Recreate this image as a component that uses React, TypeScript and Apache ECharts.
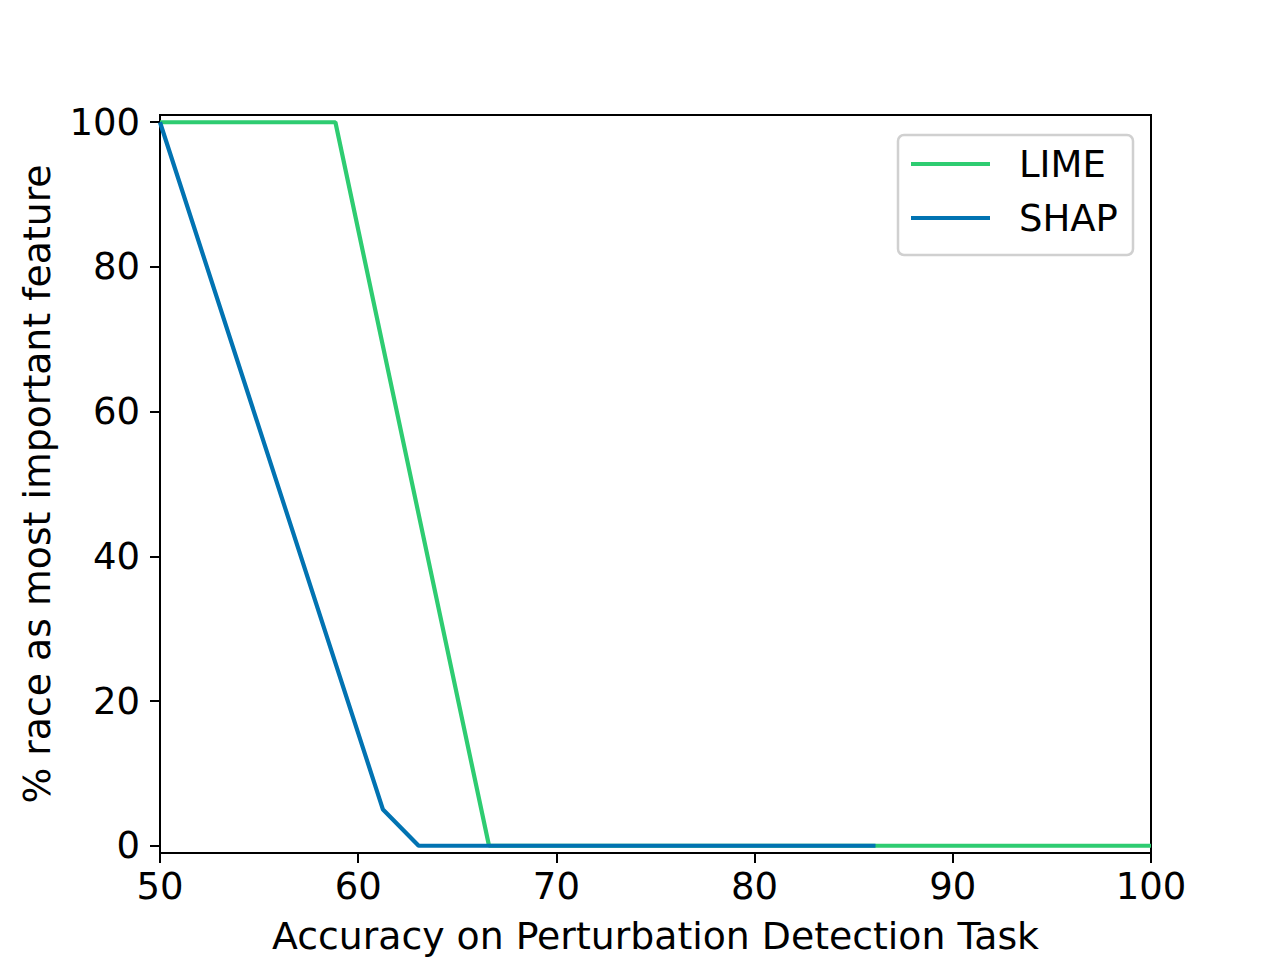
import React, { useEffect, useRef } from "react";
import * as echarts from "echarts";

const limeX = [50, 58.85, 66.6, 100];
const limeY = [100, 100, 0, 0];
const shapX = [50, 61.25, 63.05, 86.1];
const shapY = [100, 5, 0, 0];
const yTicks = [0, 20, 40, 60, 80, 100];
const seriesNames = ["LIME", "SHAP"];
const seriesColors = ["#2ecc71", "#0173b2"];

const FONT = "DejaVu Sans";
const FS = 37;
const NAME_FS = 37.8;

export default function App() {
  const ref = useRef<HTMLDivElement>(null);
  useEffect(() => {
    if (!ref.current) return;
    const chart = echarts.init(ref.current, null, { renderer: "svg" });
    const pair = (xs: number[], ys: number[]) => xs.map((x, i) => [x, ys[i]]);
    chart.setOption({
      animation: false,
      backgroundColor: "#ffffff",
      grid: {
        left: 160,
        right: 129,
        top: 115,
        bottom: 106,
        show: true,
        borderColor: "#000",
        borderWidth: 2,
        backgroundColor: "transparent",
      },
      xAxis: {
        type: "value",
        min: 50,
        max: 100,
        interval: 10,
        name: "Accuracy on Perturbation Detection Task",
        nameLocation: "middle",
        nameGap: 64,
        nameTextStyle: { fontFamily: FONT, fontSize: NAME_FS, color: "#000" },
        axisLine: { show: true, onZero: false, lineStyle: { color: "#000", width: 2 } },
        axisTick: { show: true, length: 10, lineStyle: { color: "#000", width: 2 } },
        axisLabel: { fontFamily: FONT, fontSize: FS, color: "#000", margin: 15 },
        splitLine: { show: false },
      },
      yAxis: {
        type: "value",
        min: -1,
        max: 101,
        name: "% race as most important feature",
        nameLocation: "middle",
        nameGap: 104,
        nameTextStyle: { fontFamily: FONT, fontSize: NAME_FS, color: "#000" },
        axisLine: { show: true, onZero: false, lineStyle: { color: "#000", width: 2 } },
        axisTick: {
          show: true,
          length: 10,
          customValues: yTicks,
          lineStyle: { color: "#000", width: 2 },
        },
        axisLabel: {
          fontFamily: FONT,
          fontSize: FS,
          color: "#000",
          margin: 20,
          customValues: yTicks,
        },
        splitLine: { show: false },
      },
      graphic: [
        {
          type: "rect",
          shape: { x: 898, y: 135, width: 235, height: 120, r: 6 },
          style: { fill: "rgba(255,255,255,0.8)", stroke: "#d0d0d0", lineWidth: 2.5 },
          z: 100,
        },
        {
          type: "line",
          shape: { x1: 911, y1: 164, x2: 990, y2: 164 },
          style: { stroke: seriesColors[0], lineWidth: 4.2 },
          z: 101,
        },
        {
          type: "line",
          shape: { x1: 911, y1: 218, x2: 990, y2: 218 },
          style: { stroke: seriesColors[1], lineWidth: 4.2 },
          z: 101,
        },
        {
          type: "text",
          x: 1019,
          y: 164,
          style: {
            text: seriesNames[0],
            fontFamily: FONT,
            fontSize: FS,
            fill: "#000",
            verticalAlign: "middle",
          },
          z: 101,
        },
        {
          type: "text",
          x: 1019,
          y: 218,
          style: {
            text: seriesNames[1],
            fontFamily: FONT,
            fontSize: FS,
            fill: "#000",
            verticalAlign: "middle",
          },
          z: 101,
        },
      ],
      series: [
        {
          name: seriesNames[0],
          type: "line",
          data: pair(limeX, limeY),
          showSymbol: false,
          symbol: "none",
          lineStyle: { color: seriesColors[0], width: 4.2 },
          z: 2,
        },
        {
          name: seriesNames[1],
          type: "line",
          data: pair(shapX, shapY),
          showSymbol: false,
          symbol: "none",
          lineStyle: { color: seriesColors[1], width: 4.2 },
          z: 3,
        },
      ],
    });
    return () => chart.dispose();
  }, []);
  return (
    <div
      ref={ref}
      style={{ position: "fixed", left: 0, top: 0, width: 1280, height: 960, background: "#fff" }}
    />
  );
}
